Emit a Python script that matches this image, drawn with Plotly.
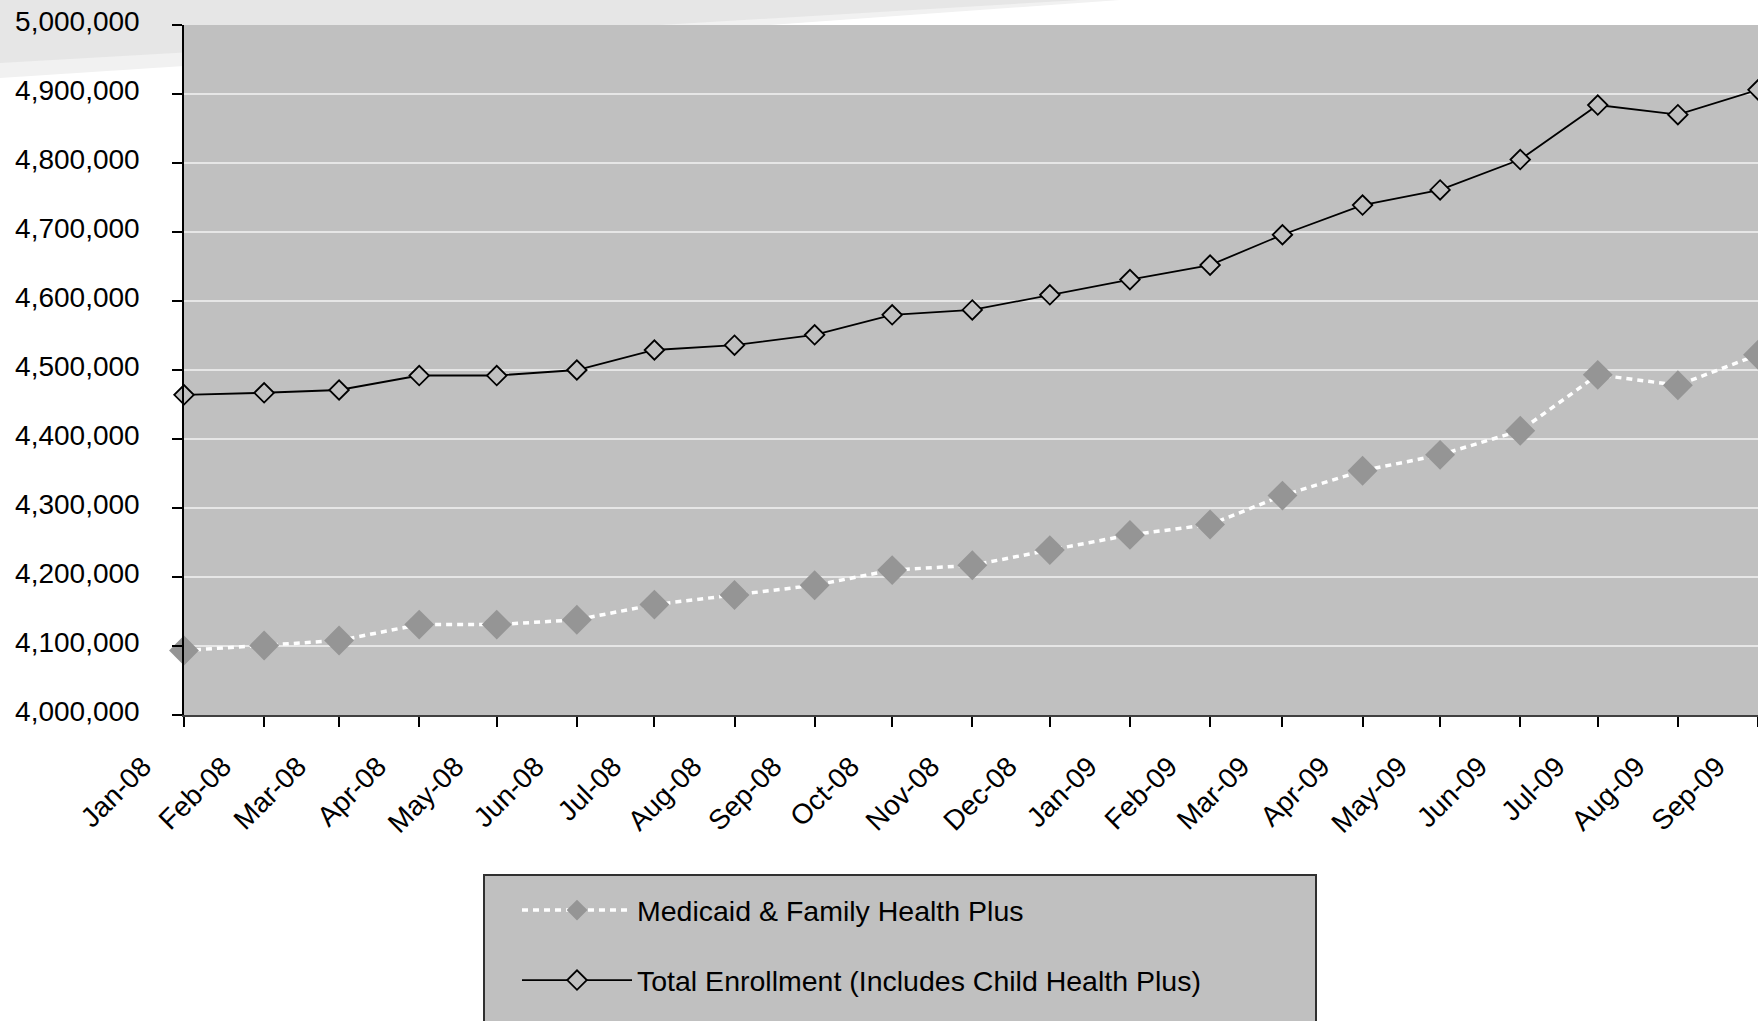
import plotly.graph_objects as go
import pandas as pd

months = ["Jan-08", "Feb-08", "Mar-08", "Apr-08", "May-08", "Jun-08", "Jul-08",
          "Aug-08", "Sep-08", "Oct-08", "Nov-08", "Dec-08", "Jan-09", "Feb-09",
          "Mar-09", "Apr-09", "May-09", "Jun-09", "Jul-09", "Aug-09", "Sep-09"]

medicaid = [4093500, 4100700, 4108000, 4131000, 4131000, 4138000, 4160000,
            4174000, 4188000, 4210000, 4217000, 4239000, 4261000, 4276000,
            4318000, 4354000, 4377000, 4412000, 4493000, 4478000, 4522000]

total = [4464000, 4467000, 4471000, 4492000, 4492000, 4500000, 4529000,
         4536000, 4551000, 4580000, 4587000, 4609000, 4631000, 4652000,
         4696000, 4739000, 4761000, 4805000, 4884000, 4870000, 4906000]

series_names = ["Medicaid & Family Health Plus",
                "Total Enrollment (Includes Child Health Plus)"]

dates = pd.to_datetime(months, format="%b-%y")

W, H = 1758, 1021
L, R, T, B = 184, 0, 25, 306
PW, PH = W - L - R, H - T - B


def px(x):
    return (x - L) / PW


def py(y):
    return (H - B - y) / PH


FONT = "Liberation Sans, Arial, sans-serif"

fig = go.Figure()
fig.add_trace(go.Scatter(
    x=dates, y=medicaid, name=series_names[0], mode="lines+markers",
    legendgroup="a",
    line=dict(color="white", width=3.5, dash="6px,5px"),
    marker=dict(symbol="diamond", size=23, color="#959595", line=dict(width=0)),
    cliponaxis=False,
))
fig.add_trace(go.Scatter(
    x=dates, y=total, name=series_names[1], mode="lines+markers",
    legendgroup="b",
    line=dict(color="black", width=1.8),
    marker=dict(symbol="diamond", size=15, color="#c0c0c0",
                line=dict(color="black", width=1.8)),
    cliponaxis=False,
))

shapes = []
# light grey swoosh in top-left (background decoration)
shapes.append(dict(
    type="path", xref="paper", yref="paper", layer="below",
    path="M {} {} L {} {} L {} {} L {} {} L {} {} L {} {} Z".format(
        px(0), py(0), px(1120), py(0), px(770), py(T), px(L), py(T),
        px(L), py(66), px(0), py(78)),
    fillcolor="#f1f1f1", line=dict(width=0)))
shapes.append(dict(
    type="path", xref="paper", yref="paper", layer="below",
    path="M {} {} L {} {} L {} {} L {} {} L {} {} L {} {} Z".format(
        px(0), py(0), px(1080), py(0), px(660), py(T), px(L), py(T),
        px(L), py(52.5), px(0), py(63)),
    fillcolor="#e6e6e6", line=dict(width=0)))
# legend box
shapes.append(dict(
    type="rect", xref="paper", yref="paper", layer="below",
    x0=px(484), x1=px(1316), y0=py(1040), y1=py(875),
    fillcolor="#c0c0c0", line=dict(color="#303030", width=2)))

fig.update_layout(
    width=W, height=H,
    margin=dict(l=L, r=R, t=T, b=B, pad=0),
    paper_bgcolor="white",
    plot_bgcolor="#c0c0c0",
    font=dict(family=FONT, size=28, color="black"),
    shapes=shapes,
    showlegend=True,
    legend=dict(
        x=px(517), y=py(885), xanchor="left", yanchor="top",
        bgcolor="rgba(0,0,0,0)", borderwidth=0,
        font=dict(family=FONT, size=28.5, color="black"),
        traceorder="grouped", tracegroupgap=30, itemwidth=110,
    ),
    xaxis=dict(
        type="date",
        range=[dates[0], dates[-1]],
        tick0=dates[0], dtick="M1", tickformat="%b-%y",
        tickangle=-45,
        ticks="outside", ticklen=10, tickwidth=1.5, tickcolor="black",
        showline=True, linecolor="#404040", linewidth=2,
        showgrid=False, zeroline=False,
        tickfont=dict(family=FONT, size=28, color="black"),
        ticklabelshift=-41, ticklabelstandoff=12,
    ),
    yaxis=dict(
        range=[4000000, 5000000], dtick=100000, tickformat=",",
        ticks="outside", ticklen=10, tickwidth=1.5, tickcolor="black",
        showline=True, linecolor="black", linewidth=1.5,
        showgrid=True, gridcolor="#e6e6e6", gridwidth=2,
        zeroline=False,
        tickfont=dict(family=FONT, size=28, color="black"),
        ticklabelstandoff=27, ticklabelshift=-4,
    ),
)

fig.write_html("out.html")
